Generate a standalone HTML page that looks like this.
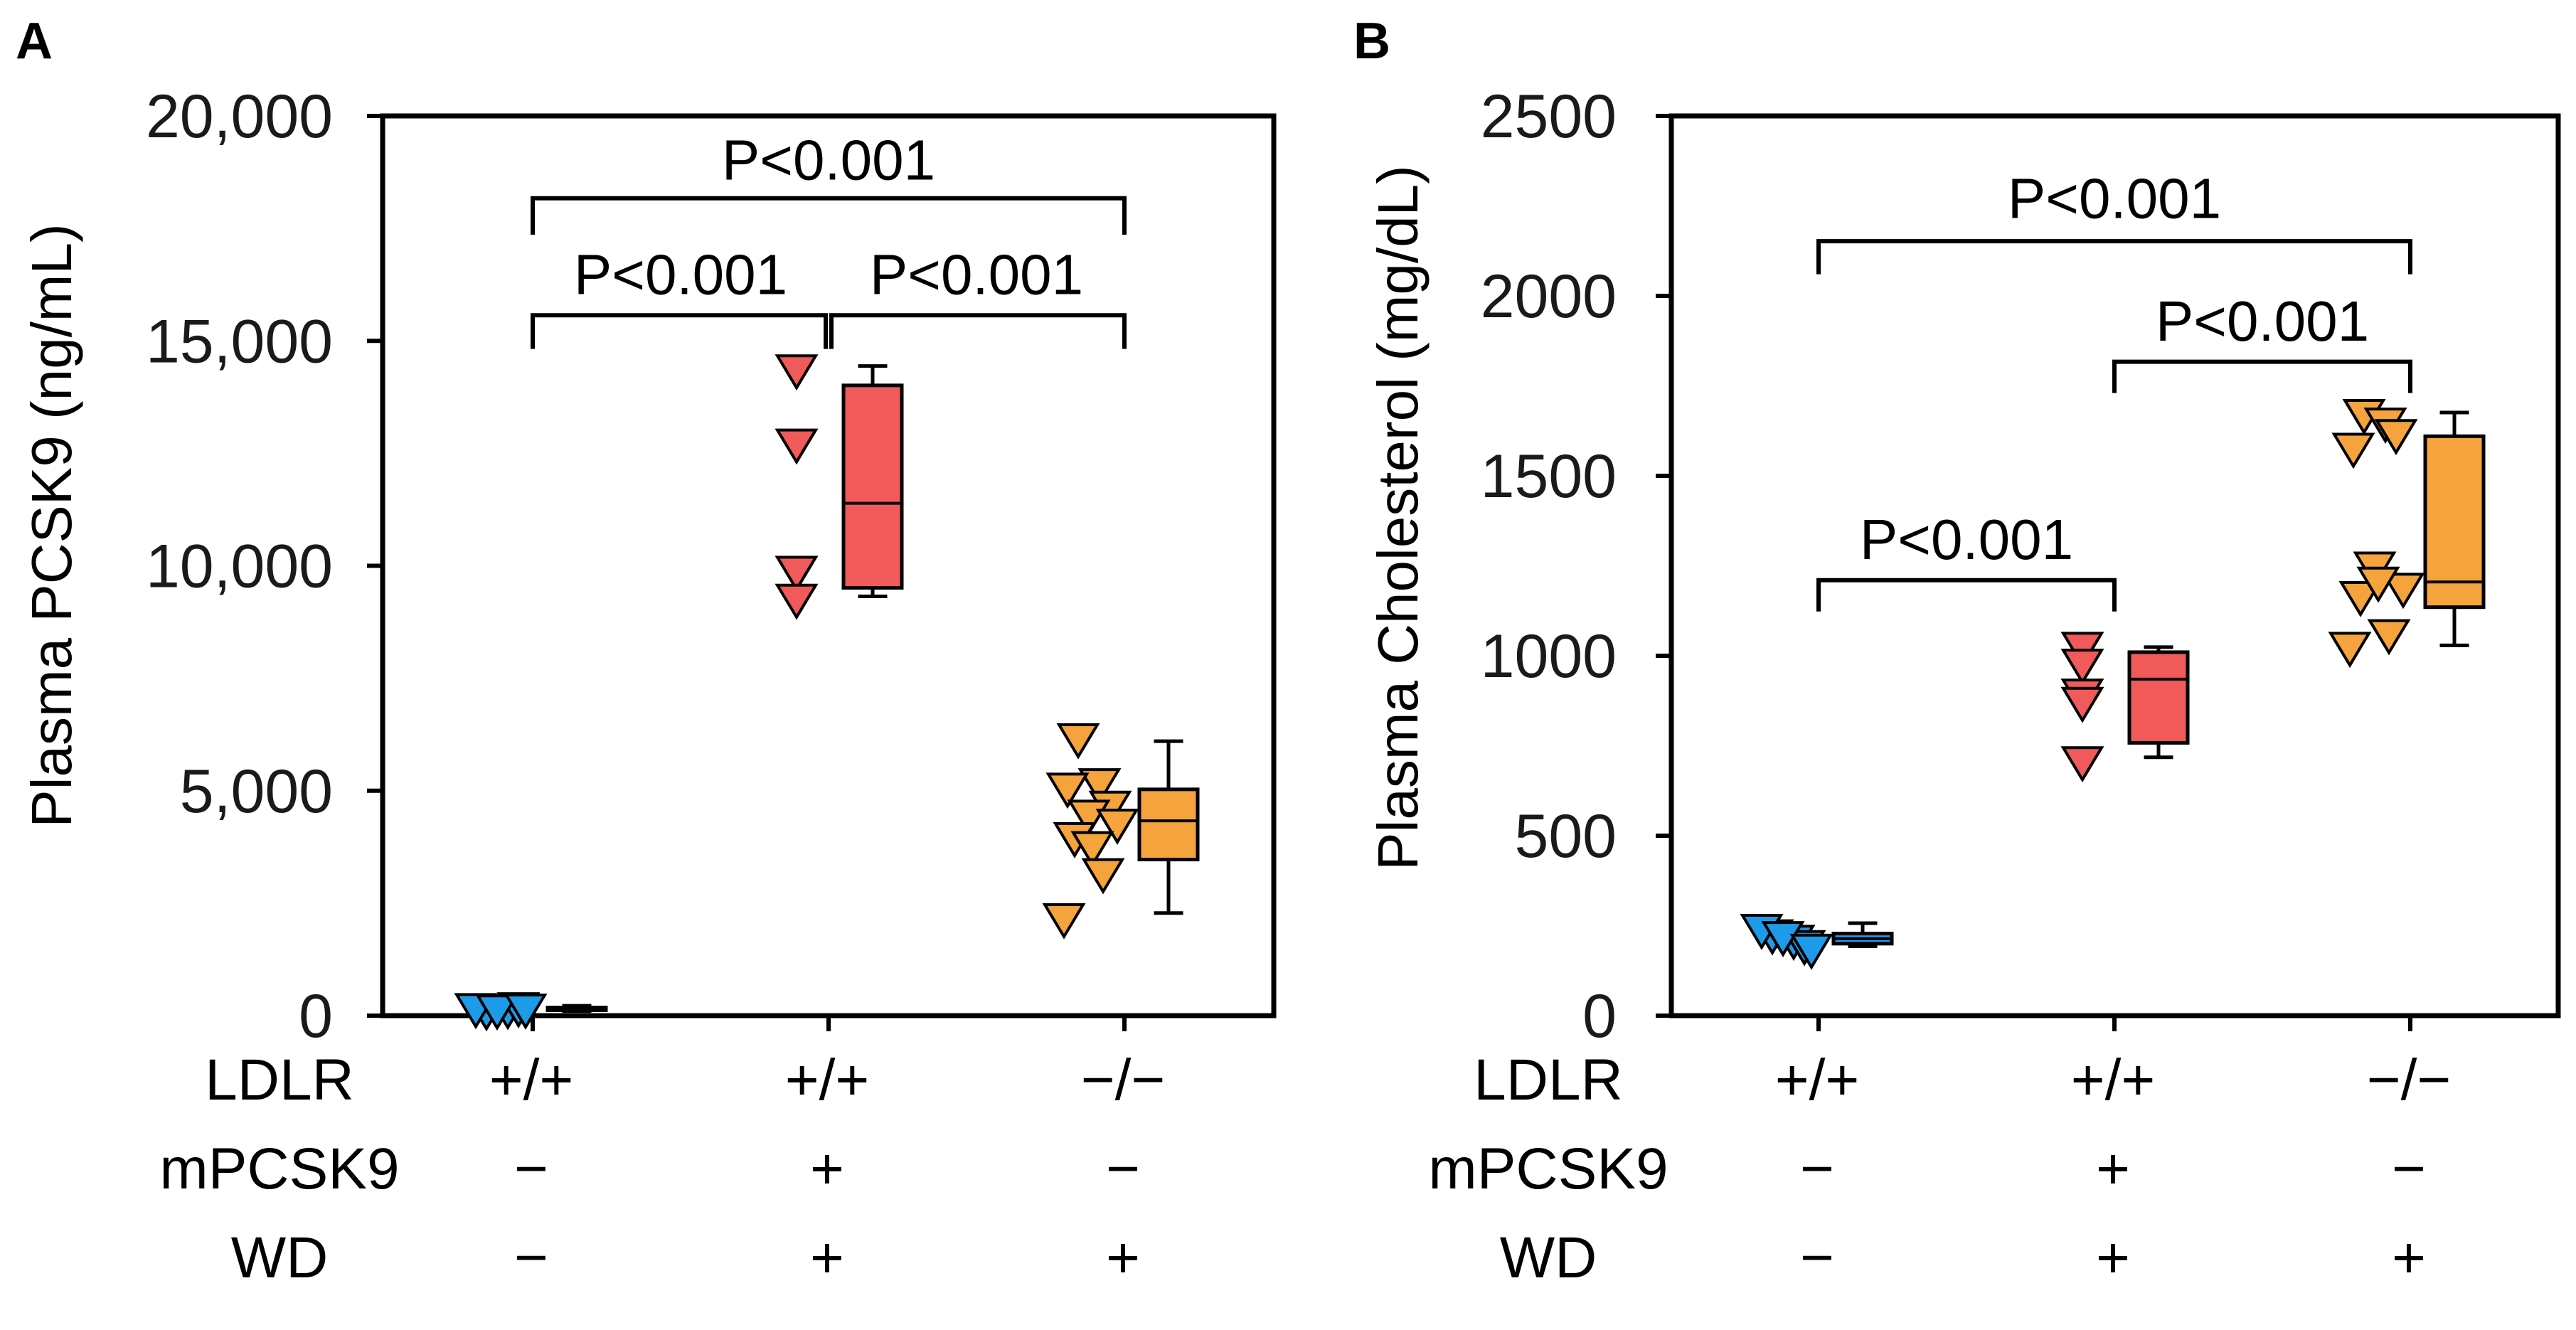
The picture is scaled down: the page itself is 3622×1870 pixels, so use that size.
<!DOCTYPE html>
<html><head><meta charset="utf-8"><style>
html,body{margin:0;padding:0;background:#fff;}
svg{display:block;font-family:"Liberation Sans",Arial,sans-serif;}
</style></head><body>
<svg id="fig" width="3622" height="1870" viewBox="0 0 3622 1870" xmlns="http://www.w3.org/2000/svg"></svg>
<script>
// ---- Panel A data (ng/mL) ----
const catsA = ["g1","g2","g3"];
const ptsA_g1 = [150,180,200,220,170,190];
const ptsA_g2 = [14400,12750,9920,9300];
const ptsA_g3 = [6200,5200,5100,4700,4500,4300,4000,3800,3200,2200];
const boxA_low = [100,9320,2280];
const boxA_q1 = [120,9510,3470];
const boxA_med = [150,11390,4330];
const boxA_q3 = [180,14010,5030];
const boxA_high = [220,14440,6100];
const ticksA = [0,5000,10000,15000,20000];
const tickLabelsA = ["0","5,000","10,000","15,000","20,000"];
// ---- Panel B data (mg/dL) ----
const ptsB_g1 = [230,215,245,200,225,190];
const ptsB_g2 = [1029,982,899,876,711];
const ptsB_g3 = [1676,1652,1582,1620,1252,1193,1170,1210,1064,1029];
const boxB_low = [193,718,1029];
const boxB_q1 = [200,758,1135];
const boxB_med = [214,935,1205];
const boxB_q3 = [228,1010,1610];
const boxB_high = [257,1024,1676];
const ticksB = [0,500,1000,1500,2000,2500];
const tickLabelsB = ["0","500","1000","1500","2000","2500"];
const colors = ["#1e9be8","#f05a5a","#f5a33c"];
const rowLabels = ["LDLR","mPCSK9","WD"];
const rowVals = [["+/+","+/+","\u2212/\u2212"],["\u2212","+","\u2212"],["\u2212","+","+"]];

const NS="http://www.w3.org/2000/svg";
const svg=document.getElementById('fig');
function mk(tag,attrs,parent,name,inter){
  const e=document.createElementNS(NS,tag);
  for(const k in attrs)e.setAttribute(k,attrs[k]);
  
  
  (parent||svg).appendChild(e);return e;
}
const jitter=[-20,10,-35,25,-5,35,-25,0,15,-40];

function panel(cfg){
  const g=mk('g',{},svg,cfg.name,false);
  const L=cfg.left,R=cfg.right,T=163,B=1428,max=cfg.max;
  const ys=v=>B-v/max*(B-T);
  const xs=i=>cfg.cat0+i*416;
  let t=mk('text',{x:cfg.letterX,y:82,'font-size':72,'font-weight':'bold',fill:'#000'},g,'panel-letter',false);t.textContent=cfg.letter;
  mk('rect',{x:L,y:T,width:R-L,height:B-T,fill:'none',stroke:'#000','stroke-width':7},g,'plot-frame',false);
  cfg.ticks.forEach((v,i)=>{
    mk('line',{x1:L-22,x2:L,y1:ys(v),y2:ys(v),stroke:'#000','stroke-width':6},g,'y-tick',false);
    const tl=mk('text',{x:cfg.tickLabX,y:ys(v)+30,'font-size':86,'text-anchor':'end',fill:'#1a1a1a'},g,'y-tick-label',false);
    tl.textContent=cfg.tickLabels[i];
  });
  const yt=mk('text',{x:0,y:0,'font-size':80,'text-anchor':'middle',fill:'#000',transform:`translate(${cfg.titleX},${cfg.titleY}) rotate(-90)`},g,'y-axis-title',false);
  yt.textContent=cfg.title;
  for(let i=0;i<3;i++){
    mk('line',{x1:xs(i),x2:xs(i),y1:B,y2:B+22,stroke:'#000','stroke-width':6},g,'x-tick',false);
    for(let r=0;r<3;r++){
      const ct=mk('text',{x:xs(i)-2,y:1546+r*125,'font-size':82,'text-anchor':'middle',fill:'#000'},g,'category-label',false);
      ct.textContent=rowVals[r][i];
    }
  }
  for(let r=0;r<3;r++){
    const rl=mk('text',{x:cfg.rowX,y:1546+r*125,'font-size':82,'text-anchor':'middle',fill:'#000'},g,'row-label',false);
    rl.textContent=rowLabels[r];
  }
  for(let i=0;i<3;i++){
    const cx=xs(i)+62,w=82;
    mk('line',{x1:cx,x2:cx,y1:ys(cfg.high[i]),y2:ys(cfg.low[i]),stroke:'#000','stroke-width':5},g,'whisker',false);
    mk('line',{x1:cx-w/4,x2:cx+w/4,y1:ys(cfg.high[i]),y2:ys(cfg.high[i]),stroke:'#000','stroke-width':5},g,'whisker-cap',false);
    mk('line',{x1:cx-w/4,x2:cx+w/4,y1:ys(cfg.low[i]),y2:ys(cfg.low[i]),stroke:'#000','stroke-width':5},g,'whisker-cap',false);
    mk('rect',{x:cx-w/2,y:ys(cfg.q3[i]),width:w,height:Math.max(3,ys(cfg.q1[i])-ys(cfg.q3[i])),fill:colors[i],stroke:'#000','stroke-width':5},g,'box-'+(i+1),false);
    mk('line',{x1:cx-w/2,x2:cx+w/2,y1:ys(cfg.med[i]),y2:ys(cfg.med[i]),stroke:'#000','stroke-width':4},g,'median-line',false);
  }
  cfg.pts.forEach((arr,i)=>{
    arr.forEach((v,j)=>{
      const cx=xs(i)-45+(i===1?0:jitter[j%jitter.length]),cy=ys(v);
      mk('polygon',{points:`${cx-27},${cy-17} ${cx+27},${cy-17} ${cx},${cy+28}`,fill:colors[i],stroke:'#000','stroke-width':4},g,'data-point',false);
    });
  });
  cfg.brackets.forEach(b=>{
    const x1=xs(b[0]),x2=xs(b[1]),y=ys(b[2]),yl=ys(b[3]);
    mk('path',{d:`M${x1+(b[4]||0)},${yl} L${x1+(b[4]||0)},${y} L${x2+(b[5]||0)},${y} L${x2+(b[5]||0)},${yl}`,fill:'none',stroke:'#000','stroke-width':6},g,'significance-bracket',false);
    const pt=mk('text',{x:(x1+x2)/2,y:ys(b[6])+30,'font-size':80,'text-anchor':'middle',fill:'#000'},g,'p-value-label',false);
    pt.textContent='P<0.001';
  });
}
panel({name:'panel-a',letter:'A',letterX:22,left:538,right:1791,cat0:749,max:20000,
  ticks:ticksA,tickLabels:tickLabelsA,tickLabX:468,title:'Plasma PCSK9 (ng/mL)',titleX:100,titleY:739,rowX:393,
  pts:[ptsA_g1,ptsA_g2,ptsA_g3],low:boxA_low,q1:boxA_q1,med:boxA_med,q3:boxA_q3,high:boxA_high,
  brackets:[[0,2,18170,17360,0,0,19060],[0,1,15570,14820,0,-4,16515],[1,2,15570,14820,4,0,16515]]});
panel({name:'panel-b',letter:'B',letterX:1903,left:2350,right:3597,cat0:2557,max:2500,
  ticks:ticksB,tickLabels:tickLabelsB,tickLabX:2273,title:'Plasma Cholesterol (mg/dL)',titleX:1993,titleY:728,rowX:2177,
  pts:[ptsB_g1,ptsB_g2,ptsB_g3],low:boxB_low,q1:boxB_q1,med:boxB_med,q3:boxB_q3,high:boxB_high,
  brackets:[[0,2,2152,2060,0,0,2276],[1,2,1817,1730,0,0,1935],[0,1,1210,1123,0,0,1328]]});
</script>
</body></html>
